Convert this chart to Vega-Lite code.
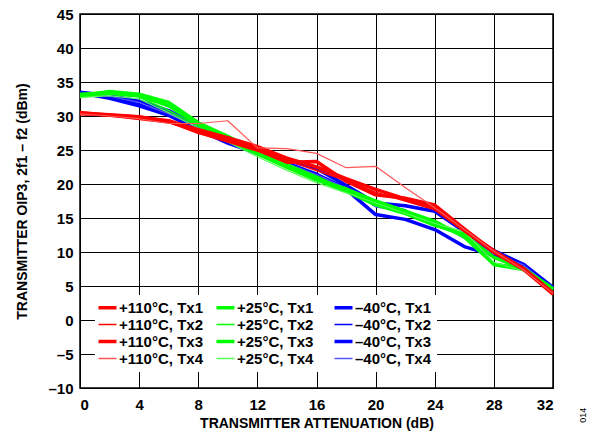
{
  "$schema": "https://vega.github.io/schema/vega-lite/v6.json",
  "width": 473,
  "height": 374,
  "autosize": {"type": "none"},
  "padding": {"left": 80, "top": 14, "right": 43, "bottom": 53},
  "background": "white",
  "config": {
    "font": "Liberation Sans",
    "view": {"stroke": "black", "strokeWidth": 1.5},
    "axis": {
      "labelFont": "Liberation Sans",
      "labelFontWeight": "bold",
      "labelFontSize": 15,
      "labelColor": "black",
      "labelOverlap": false,
      "titleFont": "Liberation Sans",
      "titleFontWeight": "bold",
      "titleFontSize": 14,
      "titleColor": "black",
      "gridColor": "black",
      "gridOpacity": 1,
      "gridWidth": 1,
      "domain": false,
      "ticks": false
    }
  },
  "layer": [
    {
      "data": {
        "values": [
          {"x": 0, "–40°C, Tx1": 33.5, "–40°C, Tx2": 33.3, "–40°C, Tx3": 33.4, "–40°C, Tx4": 33.2, "+25°C, Tx1": 33.0, "+25°C, Tx2": 32.8, "+25°C, Tx3": 33.2, "+25°C, Tx4": 32.7, "+110°C, Tx1": 30.5, "+110°C, Tx2": 30.2, "+110°C, Tx3": 30.4, "+110°C, Tx4": 30.3},
          {"x": 2, "–40°C, Tx1": 33.0, "–40°C, Tx2": 32.8, "–40°C, Tx3": 32.6, "–40°C, Tx4": 32.9, "+25°C, Tx1": 33.6, "+25°C, Tx2": 33.2, "+25°C, Tx3": 33.4, "+25°C, Tx4": 33.0, "+110°C, Tx1": 30.1, "+110°C, Tx2": 30.0, "+110°C, Tx3": 30.2, "+110°C, Tx4": 30.0},
          {"x": 4, "–40°C, Tx1": 32.2, "–40°C, Tx2": 31.8, "–40°C, Tx3": 31.5, "–40°C, Tx4": 32.0, "+25°C, Tx1": 33.2, "+25°C, Tx2": 32.8, "+25°C, Tx3": 33.0, "+25°C, Tx4": 32.5, "+110°C, Tx1": 29.8, "+110°C, Tx2": 29.5, "+110°C, Tx3": 29.9, "+110°C, Tx4": 29.6},
          {"x": 6, "–40°C, Tx1": 30.8, "–40°C, Tx2": 30.5, "–40°C, Tx3": 30.1, "–40°C, Tx4": 30.3, "+25°C, Tx1": 32.0, "+25°C, Tx2": 30.8, "+25°C, Tx3": 31.5, "+25°C, Tx4": 30.5, "+110°C, Tx1": 29.3, "+110°C, Tx2": 29.0, "+110°C, Tx3": 29.2, "+110°C, Tx4": 28.9},
          {"x": 8, "–40°C, Tx1": 28.5, "–40°C, Tx2": 28.3, "–40°C, Tx3": 28.0, "–40°C, Tx4": 28.4, "+25°C, Tx1": 29.0, "+25°C, Tx2": 28.5, "+25°C, Tx3": 28.8, "+25°C, Tx4": 28.2, "+110°C, Tx1": 28.0, "+110°C, Tx2": 27.8, "+110°C, Tx3": 27.6, "+110°C, Tx4": 28.9},
          {"x": 10, "–40°C, Tx1": 26.5, "–40°C, Tx2": 26.3, "–40°C, Tx3": 26.0, "–40°C, Tx4": 26.2, "+25°C, Tx1": 27.0, "+25°C, Tx2": 26.3, "+25°C, Tx3": 26.5, "+25°C, Tx4": 26.2, "+110°C, Tx1": 26.8, "+110°C, Tx2": 26.5, "+110°C, Tx3": 26.3, "+110°C, Tx4": 29.3},
          {"x": 12, "–40°C, Tx1": 25.0, "–40°C, Tx2": 24.8, "–40°C, Tx3": 24.5, "–40°C, Tx4": 24.6, "+25°C, Tx1": 24.8, "+25°C, Tx2": 24.3, "+25°C, Tx3": 24.5, "+25°C, Tx4": 24.0, "+110°C, Tx1": 25.5, "+110°C, Tx2": 25.2, "+110°C, Tx3": 25.0, "+110°C, Tx4": 25.3},
          {"x": 14, "–40°C, Tx1": 23.5, "–40°C, Tx2": 23.2, "–40°C, Tx3": 22.8, "–40°C, Tx4": 23.0, "+25°C, Tx1": 22.8, "+25°C, Tx2": 22.3, "+25°C, Tx3": 22.5, "+25°C, Tx4": 22.0, "+110°C, Tx1": 23.8, "+110°C, Tx2": 23.5, "+110°C, Tx3": 23.2, "+110°C, Tx4": 25.2},
          {"x": 16, "–40°C, Tx1": 22.3, "–40°C, Tx2": 21.6, "–40°C, Tx3": 21.3, "–40°C, Tx4": 21.4, "+25°C, Tx1": 21.0, "+25°C, Tx2": 20.5, "+25°C, Tx3": 20.6, "+25°C, Tx4": 20.2, "+110°C, Tx1": 22.5, "+110°C, Tx2": 22.0, "+110°C, Tx3": 23.3, "+110°C, Tx4": 24.5},
          {"x": 18, "–40°C, Tx1": 19.8, "–40°C, Tx2": 19.5, "–40°C, Tx3": 19.2, "–40°C, Tx4": 19.4, "+25°C, Tx1": 19.0, "+25°C, Tx2": 18.8, "+25°C, Tx3": 19.3, "+25°C, Tx4": 18.7, "+110°C, Tx1": 20.8, "+110°C, Tx2": 20.5, "+110°C, Tx3": 20.4, "+110°C, Tx4": 22.4},
          {"x": 20, "–40°C, Tx1": 17.2, "–40°C, Tx2": 17.0, "–40°C, Tx3": 15.5, "–40°C, Tx4": 16.6, "+25°C, Tx1": 17.0, "+25°C, Tx2": 16.8, "+25°C, Tx3": 17.5, "+25°C, Tx4": 17.2, "+110°C, Tx1": 19.2, "+110°C, Tx2": 18.8, "+110°C, Tx3": 18.4, "+110°C, Tx4": 22.6},
          {"x": 22, "–40°C, Tx1": 16.8, "–40°C, Tx2": 16.2, "–40°C, Tx3": 14.8, "–40°C, Tx4": 16.0, "+25°C, Tx1": 15.8, "+25°C, Tx2": 15.5, "+25°C, Tx3": 16.0, "+25°C, Tx4": 15.7, "+110°C, Tx1": 17.8, "+110°C, Tx2": 17.5, "+110°C, Tx3": 17.9, "+110°C, Tx4": 19.5},
          {"x": 24, "–40°C, Tx1": 16.0, "–40°C, Tx2": 14.0, "–40°C, Tx3": 13.3, "–40°C, Tx4": 14.5, "+25°C, Tx1": 14.0, "+25°C, Tx2": 13.8, "+25°C, Tx3": 14.5, "+25°C, Tx4": 14.2, "+110°C, Tx1": 16.5, "+110°C, Tx2": 16.2, "+110°C, Tx3": 16.9, "+110°C, Tx4": 16.5},
          {"x": 26, "–40°C, Tx1": 13.0, "–40°C, Tx2": 12.5, "–40°C, Tx3": 10.8, "–40°C, Tx4": 12.0, "+25°C, Tx1": 12.5, "+25°C, Tx2": 12.8, "+25°C, Tx3": 12.2, "+25°C, Tx4": 13.0, "+110°C, Tx1": 13.2, "+110°C, Tx2": 13.0, "+110°C, Tx3": 13.4, "+110°C, Tx4": 13.3},
          {"x": 28, "–40°C, Tx1": 10.2, "–40°C, Tx2": 9.8, "–40°C, Tx3": 9.5, "–40°C, Tx4": 9.7, "+25°C, Tx1": 9.2, "+25°C, Tx2": 8.0, "+25°C, Tx3": 8.2, "+25°C, Tx4": 8.5, "+110°C, Tx1": 10.2, "+110°C, Tx2": 9.8, "+110°C, Tx3": 10.0, "+110°C, Tx4": 10.1},
          {"x": 30, "–40°C, Tx1": 8.2, "–40°C, Tx2": 8.0, "–40°C, Tx3": 7.9, "–40°C, Tx4": 8.1, "+25°C, Tx1": 7.5, "+25°C, Tx2": 7.3, "+25°C, Tx3": 7.6, "+25°C, Tx4": 7.2, "+110°C, Tx1": 7.5, "+110°C, Tx2": 7.3, "+110°C, Tx3": 7.6, "+110°C, Tx4": 7.4},
          {"x": 32, "–40°C, Tx1": 4.8, "–40°C, Tx2": 4.6, "–40°C, Tx3": 4.4, "–40°C, Tx4": 4.5, "+25°C, Tx1": 4.5, "+25°C, Tx2": 4.3, "+25°C, Tx3": 4.6, "+25°C, Tx4": 4.2, "+110°C, Tx1": 3.8, "+110°C, Tx2": 3.7, "+110°C, Tx3": 4.0, "+110°C, Tx4": 3.9}
        ]
      },
      "transform": [
        {"fold": ["–40°C, Tx1", "–40°C, Tx2", "–40°C, Tx3", "–40°C, Tx4", "+25°C, Tx1", "+25°C, Tx2", "+25°C, Tx3", "+25°C, Tx4", "+110°C, Tx1", "+110°C, Tx2", "+110°C, Tx3", "+110°C, Tx4"], "as": ["series", "y"]}
      ],
      "mark": {"type": "line", "strokeJoin": "round", "strokeCap": "butt"},
      "encoding": {
        "x": {
          "field": "x", "type": "quantitative",
          "scale": {"domain": [0, 32], "nice": false, "zero": false},
          "axis": {"values": [0, 4, 8, 12, 16, 20, 24, 28, 32], "title": "TRANSMITTER ATTENUATION (dB)", "labelPadding": 9, "titlePadding": 4}
        },
        "y": {
          "field": "y", "type": "quantitative",
          "scale": {"domain": [-10, 45], "nice": false, "zero": false},
          "axis": {"values": [-10, -5, 0, 5, 10, 15, 20, 25, 30, 35, 40, 45], "title": "TRANSMITTER OIP3, 2f1 – f2 (dBm)", "labelPadding": 7, "titlePadding": 18, "labelExpr": "replace(datum.label, '−', '–')"}
        },
        "color": {
          "field": "series", "type": "nominal",
          "scale": {
            "domain": ["+110°C, Tx1", "+110°C, Tx2", "+110°C, Tx3", "+110°C, Tx4", "+25°C, Tx1", "+25°C, Tx2", "+25°C, Tx3", "+25°C, Tx4", "–40°C, Tx1", "–40°C, Tx2", "–40°C, Tx3", "–40°C, Tx4"],
            "range": ["#ff0000", "#ff0000", "#ff0000", "#ff5555", "#00ff00", "#00ff00", "#00ff00", "#55ff55", "#0000ff", "#0000ff", "#0000ff", "#5555ff"]
          },
          "legend": {
            "title": null,
            "orient": "none",
            "legendX": 15,
            "legendY": 281,
            "columns": 3,
            "direction": "vertical",
            "gridAlign": "all",
            "fillColor": "white",
            "padding": 5,
            "symbolType": "stroke",
            "symbolSize": 324,
            "symbolStrokeWidth": 3,
            "labelFont": "Liberation Sans",
            "labelFontSize": 15,
            "labelFontWeight": "bold",
            "labelColor": "black",
            "labelOffset": 4,
            "columnPadding": 6,
            "rowPadding": 1,
            "labelLimit": 200,
            "encode": {
              "symbols": {"update": {"strokeWidth": {"signal": "test(/Tx[13]$/, datum.value) ? 3.5 : 1.5"}}}
            }
          }
        },
        "strokeWidth": {
          "condition": [
            {"test": "test(/Tx[13]$/, datum.series)", "value": 3.5},
            {"test": "test(/Tx2$/, datum.series)", "value": 1.6}
          ],
          "value": 1.2
        }
      }
    },
    {
      "data": {"values": [{"x": 34, "y": -14, "t": "014"}]},
      "mark": {"type": "text", "angle": 270, "fontSize": 9, "font": "Liberation Sans", "color": "black", "clip": false},
      "encoding": {
        "x": {
          "field": "x", "type": "quantitative",
          "axis": {"values": [0, 4, 8, 12, 16, 20, 24, 28, 32], "title": "TRANSMITTER ATTENUATION (dB)", "labelPadding": 9, "titlePadding": 4}
        },
        "y": {
          "field": "y", "type": "quantitative",
          "axis": {"values": [-10, -5, 0, 5, 10, 15, 20, 25, 30, 35, 40, 45], "title": "TRANSMITTER OIP3, 2f1 – f2 (dBm)", "labelPadding": 7, "titlePadding": 18, "labelExpr": "replace(datum.label, '−', '–')"}
        },
        "text": {"field": "t"}
      }
    }
  ]
}
